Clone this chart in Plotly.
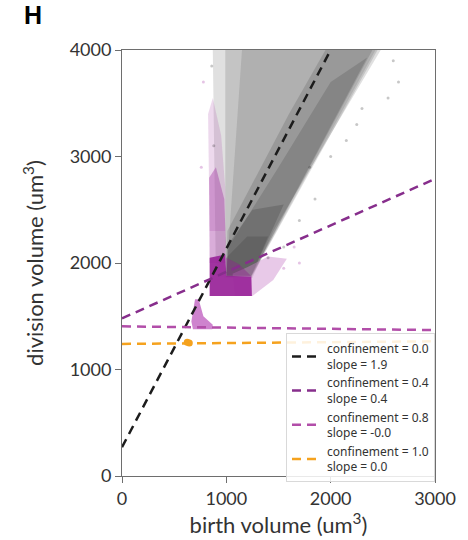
import plotly.graph_objects as go

# ---------------- data ----------------
fit_names = ["confinement = 0.0<br>slope = 1.9",
             "confinement = 0.4<br>slope = 0.4",
             "confinement = 0.8<br>slope = -0.0",
             "confinement = 1.0<br>slope = 0.0"]
fit_x = [[0, 2000], [0, 3000], [0, 3000], [0, 3000]]
fit_y = [[270, 4000], [1480, 2790], [1405, 1370], [1240, 1265]]
fit_colors = ["#1c1c1c", "#872e8c", "#b24ea9", "#f5a21e"]

# black (confinement 0.0) cloud: nested density envelopes
blk1_x = [900, 870, 2480, 1900, 1450, 1250, 1000]
blk1_y = [1880, 4000, 4000, 3050, 2300, 1860, 1860]
blk2_x = [990, 990, 2450, 1240, 1000]
blk2_y = [1870, 4000, 4000, 1865, 1865]
blk3_x = [1000, 1150, 2430, 1240]
blk3_y = [1870, 4000, 4000, 1870]
blk4_x = [1000, 1010, 1600, 1950, 2400, 1240]
blk4_y = [1875, 2300, 3400, 4000, 4000, 1875]
blk5_x = [1000, 1020, 1500, 2000, 2350, 1240]
blk5_y = [1880, 2150, 2900, 3700, 3930, 1880]
blk6_x = [1000, 1000, 1250, 1550, 1240]
blk6_y = [1880, 2150, 2500, 2550, 1880]
blk7_x = [1000, 1000, 1200, 1400, 1240]
blk7_y = [1880, 2050, 2250, 2250, 1880]

# magenta (confinement 0.4) cloud
mag_halo_x = [1080, 1250, 1450, 1580, 1400, 1200, 1060]
mag_halo_y = [1690, 1690, 1840, 2040, 2060, 1960, 1900]
mag_top_x = [840, 825, 870, 950, 990, 990]
mag_top_y = [2300, 3400, 3550, 3200, 2700, 2300]
mag_col_x = [840, 835, 900, 980, 995, 990]
mag_col_y = [2000, 2800, 2900, 2600, 2200, 2000]
mag_block_x = [840, 840, 990, 1000, 1240, 1245]
mag_block_y = [1690, 2050, 2080, 1880, 1870, 1690]
mag_mix_x = [1000, 1000, 1120, 1245]
mag_mix_y = [1870, 2050, 1990, 1870]

# pink (confinement 0.8) cloud
pink_x = [700, 735, 780, 870, 865, 680, 665, 690]
pink_y = [1660, 1660, 1500, 1420, 1378, 1378, 1450, 1600]

gray_dots_x = [1400, 1550, 1700, 1850, 2000, 2150, 2300, 2600, 2650, 1800, 2250, 860, 880, 2550]
gray_dots_y = [2050, 2150, 2400, 2600, 3000, 3150, 3450, 3900, 3700, 2900, 3300, 3850, 3100, 3550]
pink_dots_x = [1550, 1700, 1650, 780, 760]
pink_dots_y = [1950, 2000, 2150, 3700, 2900]
orange_x = [625, 645]
orange_y = [1255, 1250]

x_ticks = [0, 1000, 2000, 3000]
y_ticks = [0, 1000, 2000, 3000, 4000]

# ---------------- figure ----------------
fig = go.Figure()

def poly(xs, ys, color):
    fig.add_trace(go.Scatter(x=xs, y=ys, fill="toself", fillcolor=color,
                             mode="lines", line=dict(width=0),
                             showlegend=False, hoverinfo="skip"))

poly(blk1_x, blk1_y, "rgba(0,0,0,0.12)")
poly(blk2_x, blk2_y, "rgba(0,0,0,0.12)")
poly(blk3_x, blk3_y, "rgba(0,0,0,0.10)")
poly(blk4_x, blk4_y, "rgba(0,0,0,0.13)")
poly(blk5_x, blk5_y, "rgba(0,0,0,0.13)")
poly(blk6_x, blk6_y, "rgba(0,0,0,0.15)")
poly(blk7_x, blk7_y, "rgba(0,0,0,0.12)")

poly(mag_halo_x, mag_halo_y, "rgba(205,135,205,0.45)")
poly(mag_top_x, mag_top_y, "rgba(175,80,175,0.22)")
poly(mag_col_x, mag_col_y, "rgba(160,50,160,0.40)")
poly(mag_block_x, mag_block_y, "rgba(155,40,155,0.95)")
poly(mag_mix_x, mag_mix_y, "rgba(140,40,140,0.45)")
poly(pink_x, pink_y, "rgba(190,90,190,0.75)")

fig.add_trace(go.Scatter(x=gray_dots_x, y=gray_dots_y, mode="markers",
                         marker=dict(size=3, color="rgba(0,0,0,0.22)"),
                         showlegend=False, hoverinfo="skip"))
fig.add_trace(go.Scatter(x=pink_dots_x, y=pink_dots_y, mode="markers",
                         marker=dict(size=3, color="rgba(170,60,170,0.3)"),
                         showlegend=False, hoverinfo="skip"))
fig.add_trace(go.Scatter(x=orange_x, y=orange_y, mode="markers",
                         marker=dict(size=7, color="#f5a21e"),
                         showlegend=False, hoverinfo="skip"))

for name, xs, ys, c in zip(fit_names, fit_x, fit_y, fit_colors):
    fig.add_trace(go.Scatter(x=xs, y=ys, mode="lines", name=name,
                             line=dict(color=c, width=2.5, dash="9px,6px"),
                             hoverinfo="skip"))

axis_common = dict(showline=True, linecolor="#6e6e6e", linewidth=1, mirror=True,
                   ticks="outside", ticklen=6, tickcolor="#6e6e6e",
                   showgrid=False, zeroline=False,
                   tickfont=dict(family="Lato", size=18, color="#333333"))

fig.update_xaxes(range=[0, 3000], tickvals=x_ticks, **axis_common,
                 title=dict(text="birth volume (um<sup>3</sup>)",
                            font=dict(family="Lato", size=22, color="#333333"),
                            standoff=4))
fig.update_yaxes(range=[0, 4000], tickvals=y_ticks, **axis_common,
                 title=dict(text="division volume (um<sup>3</sup>)",
                            font=dict(family="Lato", size=22, color="#333333"),
                            standoff=19))

fig.update_layout(
    width=468, height=540,
    margin=dict(l=122, r=25, t=50, b=63),
    plot_bgcolor="white", paper_bgcolor="white",
    legend=dict(x=1, xanchor="right", y=0.335, yanchor="top",
                bgcolor="rgba(255,255,255,0.85)", bordercolor="#d9d9d9",
                borderwidth=1, font=dict(family="Noto Sans", size=12, color="#333333"),
                tracegroupgap=0, itemwidth=30),
    annotations=[dict(text="<b>H</b>", xref="paper", yref="paper",
                      x=-0.32, y=1.12, xanchor="left", yanchor="top",
                      showarrow=False,
                      font=dict(family="Liberation Sans", size=25, color="black"))],
)

fig.write_html("out.html")
